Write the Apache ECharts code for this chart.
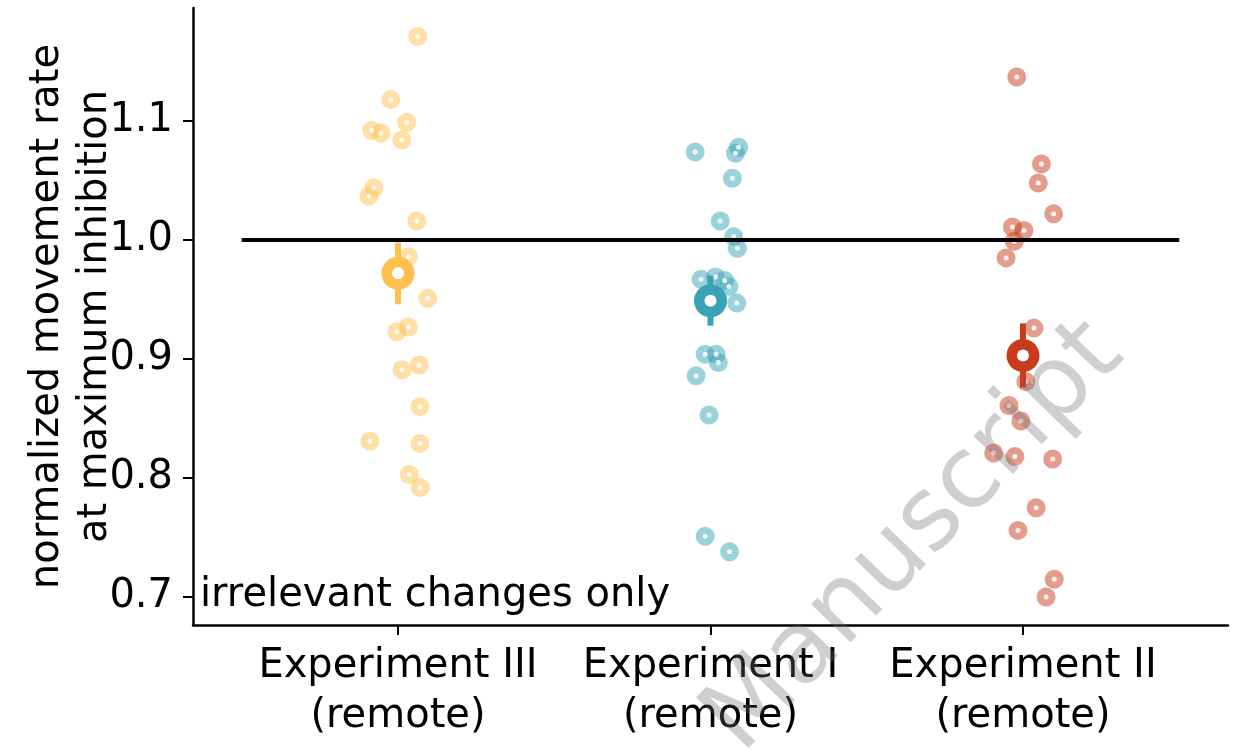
<!DOCTYPE html>
<html>
<head>
<meta charset="utf-8">
<style>
  html, body { margin: 0; padding: 0; background: #ffffff; }
  #chart { width: 1236px; height: 750px; }
</style>
<script src="https://cdn.jsdelivr.net/npm/echarts@6/dist/echarts.min.js"></script>
</head>
<body>
<div id="chart"></div>
<script>
// Groups, in plotting order
const categories = ['Experiment III\n(remote)', 'Experiment I\n(remote)', 'Experiment II\n(remote)'];
const groupColors = ['#FFC04D', '#38A3B6', '#C83C1C'];

// Per-subject normalized movement rate at maximum inhibition
const expIII_values = [1.171, 1.118, 1.099, 1.092, 1.090, 1.084, 1.044, 1.037, 1.016, 0.986,
                       0.951, 0.923, 0.927, 0.895, 0.891, 0.860, 0.831, 0.829, 0.803, 0.792];
const expIII_jitter = [0.063, -0.023, 0.028, -0.084, -0.055, 0.012, -0.077, -0.093, 0.060, 0.033,
                       0.095, -0.004, 0.033, 0.068, 0.013, 0.070, -0.090, 0.070, 0.036, 0.071];

const expI_values = [1.074, 1.078, 1.073, 1.052, 1.016, 1.003, 0.993, 0.967, 0.969, 0.966, 0.961, 0.947,
                     0.904, 0.904, 0.897, 0.886, 0.853, 0.751, 0.738];
const expI_jitter = [-0.049, 0.090, 0.080, 0.070, 0.031, 0.074, 0.086, -0.030, 0.016, 0.045, 0.059, 0.084,
                     -0.017, 0.018, 0.025, -0.046, -0.005, -0.017, 0.061];

const expII_values = [1.137, 1.064, 1.048, 1.022, 1.011, 1.008, 0.999, 0.985,
                      0.926, 0.881, 0.861, 0.848, 0.821, 0.818, 0.816, 0.775, 0.756, 0.715, 0.700];
const expII_jitter = [-0.020, 0.059, 0.049, 0.098, -0.034, 0.003, -0.028, -0.054,
                      0.035, 0.009, -0.045, -0.007, -0.094, -0.026, 0.095, 0.042, -0.016, 0.100, 0.074];

// Group means and standard errors
const groupMeans = [0.972, 0.949, 0.903];
const groupErrors = [0.026, 0.021, 0.027];

// Reference level and y tick labels
const referenceLevel = 1.0;
const yTicks = [0.7, 0.8, 0.9, 1.0, 1.1];

const groupValues = [expIII_values, expI_values, expII_values];
const groupJitter = [expIII_jitter, expI_jitter, expII_jitter];

function withAlpha(hex, a) {
  const r = parseInt(hex.slice(1, 3), 16), g = parseInt(hex.slice(3, 5), 16), b = parseInt(hex.slice(5, 7), 16);
  return 'rgba(' + r + ',' + g + ',' + b + ',' + a + ')';
}

const FONT = 'DejaVu Sans';
const FS = 40;
const series = [];

// Individual subjects: translucent disc with a white centre
groupValues.forEach(function (vals, gi) {
  const pts = vals.map(function (v, i) { return [gi + groupJitter[gi][i], v]; });
  series.push({
    type: 'scatter', data: pts, symbol: 'circle', symbolSize: 19, z: 2,
    itemStyle: { color: withAlpha(groupColors[gi], 0.5), opacity: 1 }, silent: true
  });
  series.push({
    type: 'scatter', data: pts, symbol: 'circle', symbolSize: 5, z: 3,
    itemStyle: { color: '#ffffff', opacity: 0.85 }, silent: true
  });
});

// Reference line at 1.0
series.push({
  type: 'line', data: [[-0.5, referenceLevel], [2.5, referenceLevel]], symbol: 'none', z: 4,
  lineStyle: { color: '#000000', width: 4 }, silent: true
});

// Means with error bars
groupMeans.forEach(function (m, gi) {
  series.push({
    type: 'line', data: [[gi, m - groupErrors[gi]], [gi, m + groupErrors[gi]]], symbol: 'none', z: 5,
    lineStyle: { color: groupColors[gi], width: 6, cap: 'butt' }, silent: true
  });
  series.push({
    type: 'scatter', data: [[gi, m]], symbol: 'circle', symbolSize: 33, z: 6,
    itemStyle: { color: groupColors[gi], opacity: 1 }, silent: true
  });
  series.push({
    type: 'scatter', data: [[gi, m]], symbol: 'circle', symbolSize: 12, z: 7,
    itemStyle: { color: '#ffffff', opacity: 1 }, silent: true
  });
});

const chart = echarts.init(document.getElementById('chart'), null, { renderer: 'canvas' });
chart.setOption({
  animation: false,
  backgroundColor: '#ffffff',
  grid: { left: 193, right: 8, top: 8, bottom: 125, containLabel: false, outerBoundsMode: 'none' },
  xAxis: {
    type: 'value', min: -0.656, max: 2.656,
    splitLine: { show: false },
    axisLine: { show: true, onZero: false, lineStyle: { color: '#000', width: 2.5 } },
    axisTick: { show: true, length: 10, lineStyle: { color: '#000', width: 2 }, customValues: [0, 1, 2] },
    axisLabel: {
      customValues: [0, 1, 2], margin: 17,
      formatter: function (v) { return categories[Math.round(v)]; },
      fontFamily: FONT, fontSize: FS, lineHeight: 50, color: '#000'
    }
  },
  yAxis: {
    type: 'value', min: 0.6765, max: 1.195,
    splitLine: { show: false },
    axisLine: { show: true, onZero: false, lineStyle: { color: '#000', width: 2.5 } },
    axisTick: { show: true, length: 10, lineStyle: { color: '#000', width: 2 }, customValues: yTicks },
    axisLabel: {
      customValues: yTicks, margin: 20,
      formatter: function (v) { return v.toFixed(1); },
      fontFamily: FONT, fontSize: FS, color: '#000'
    },
    name: 'normalized movement rate\nat maximum inhibition',
    nameLocation: 'middle', nameGap: 73, nameMoveOverlap: false,
    nameTextStyle: { fontFamily: FONT, fontSize: FS, lineHeight: 48, color: '#000' }
  },
  graphic: [
    {
      type: 'text', left: 200, top: 576, z: 10,
      style: { text: 'irrelevant changes only', fontFamily: FONT, fontSize: FS, fill: '#000' }
    },
    {
      type: 'text', x: 915, y: 538, rotation: 46 * Math.PI / 180, z: 100,
      style: {
        text: 'Manuscript', fontFamily: FONT, fontSize: 100,
        fill: 'rgba(110,110,110,0.33)', align: 'center', verticalAlign: 'middle'
      }
    }
  ],
  series: series
});
</script>
</body>
</html>
